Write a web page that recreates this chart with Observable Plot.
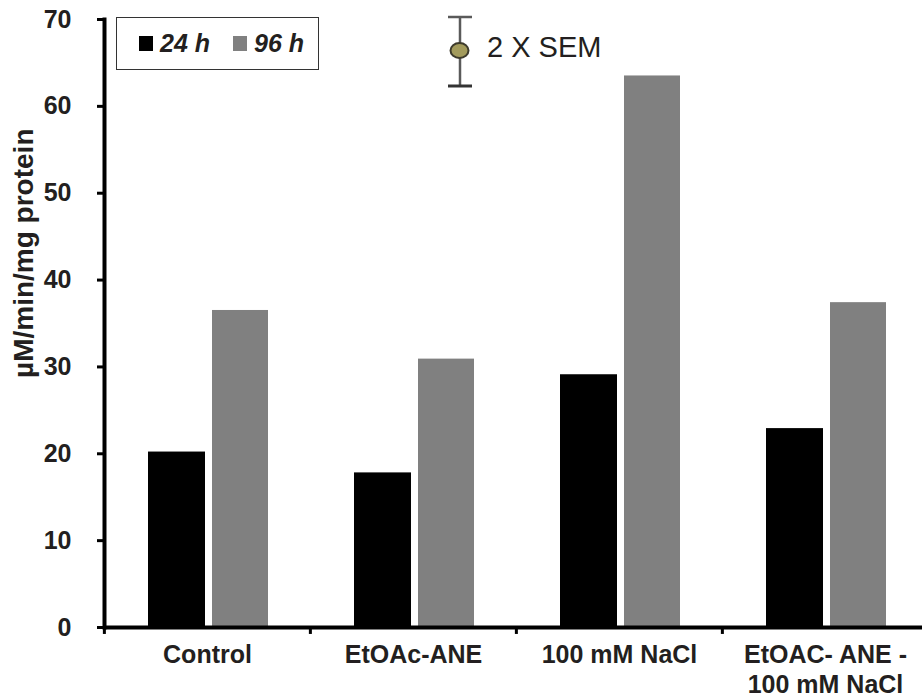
<!DOCTYPE html>
<html>
<head>
<meta charset="utf-8">
<script src="https://cdn.jsdelivr.net/npm/d3@7"></script>
<script src="https://cdn.jsdelivr.net/npm/@observablehq/plot@0.6"></script>
<style>
  body { margin: 0; background: #fff; }
  #wrap { position: relative; width: 922px; height: 700px; font-family: "Liberation Sans", Arial, sans-serif; }
  #legend { position: absolute; left: 116px; top: 17px; width: 201px; height: 51px; border: 1.5px solid #333;
            display: flex; align-items: center; box-sizing: content-box; }
  .item { display: flex; align-items: center; }
  .sw { width: 14px; height: 15px; margin-right: 7px; }
  .lab { font-weight: bold; font-style: italic; font-size: 25px; color: #231f20; }
  #sem { position: absolute; left: 0; top: 0; }
</style>
</head>
<body>
<div id="wrap"></div>
<script>
// ---- data ----
const categories = ["Control", "EtOAc-ANE", "100 mM NaCl", "EtOAC- ANE -\n100 mM NaCl"];
const series = ["24 h", "96 h"];
const values24h = [20.2, 17.8, 29.1, 22.9];
const values96h = [36.5, 30.9, 63.5, 37.4];
const yTicks = [0, 10, 20, 30, 40, 50, 60, 70];
const yLabel = "µM/min/mg protein";
const semLabel = "2 X SEM";
const colors = ["#000000", "#808080"];

const data = [];
categories.forEach((c, i) => {
  data.push({cat: c, series: series[0], value: values24h[i]});
  data.push({cat: c, series: series[1], value: values96h[i]});
});

const step = (928 - 103) / categories.length;

const chart = Plot.plot({
  width: 922,
  height: 700,
  marginLeft: 103,
  marginRight: 0,
  marginTop: 19,
  marginBottom: 73,
  style: {fontFamily: "'Liberation Sans', Arial, sans-serif", color: "#231f20", background: "white"},
  x: {type: "band", domain: categories, range: [103, 928], padding: 0},
  y: {domain: [0, 70]},
  color: {domain: series, range: colors},
  marks: [
    Plot.barY(data.filter(d => d.series === series[0]), {x: "cat", y: "value", fill: "series", insetLeft: 44, insetRight: 105}),
    Plot.barY(data.filter(d => d.series === series[1]), {x: "cat", y: "value", fill: "series", insetLeft: 108, insetRight: 42}),
    Plot.ruleY([0], {stroke: "black", strokeWidth: 4}),
    Plot.frame({anchor: "left", stroke: "black", strokeWidth: 4, dx: 1}),
    Plot.ruleX(categories, {x: d => d, y1: 0, y2: -0.8, dx: -step / 2, stroke: "black", strokeWidth: 3}),
    Plot.axisY({ticks: yTicks, tickSize: 6, tickPadding: 26, stroke: "black", strokeWidth: 3, fontSize: 25, fontWeight: "bold", label: null}),
    Plot.axisX({tickSize: 0, tickPadding: 14, fontSize: 25, fontWeight: "bold", lineHeight: 1.2, label: null}),
    Plot.text([yLabel], {frameAnchor: "top-left", rotate: -90, textAnchor: "end", dx: -90, dy: 109, fontSize: 28, fontWeight: "bold"})
  ]
});

const wrap = document.getElementById("wrap");
wrap.appendChild(chart);

// legend
const legend = document.createElement("div");
legend.id = "legend";
series.forEach((s, i) => {
  const it = document.createElement("div");
  it.className = "item";
  it.style.marginLeft = i === 0 ? "22px" : "23px";
  const sw = document.createElement("div");
  sw.className = "sw";
  sw.style.background = colors[i];
  const lab = document.createElement("span");
  lab.className = "lab";
  lab.textContent = s;
  it.appendChild(sw); it.appendChild(lab);
  legend.appendChild(it);
});
wrap.appendChild(legend);

// 2 X SEM annotation
const ns = "http://www.w3.org/2000/svg";
const sem = document.createElementNS(ns, "svg");
sem.setAttribute("id", "sem");
sem.setAttribute("width", 922);
sem.setAttribute("height", 100);
sem.innerHTML = `
  <line x1="460" y1="17" x2="460" y2="86" stroke="#5a5a5a" stroke-width="2.5"/>
  <line x1="448" y1="17" x2="472" y2="17" stroke="#5a5a5a" stroke-width="2.5"/>
  <line x1="448" y1="86" x2="472" y2="86" stroke="#333" stroke-width="3"/>
  <ellipse cx="459.5" cy="50.5" rx="9" ry="7.5" fill="#a39b5c" stroke="#3e3b2c" stroke-width="2"/>
  <text x="487" y="57" font-size="29" fill="#231f20" font-family="'Liberation Sans', Arial, sans-serif">${semLabel}</text>
`;
wrap.appendChild(sem);
</script>
</body>
</html>
